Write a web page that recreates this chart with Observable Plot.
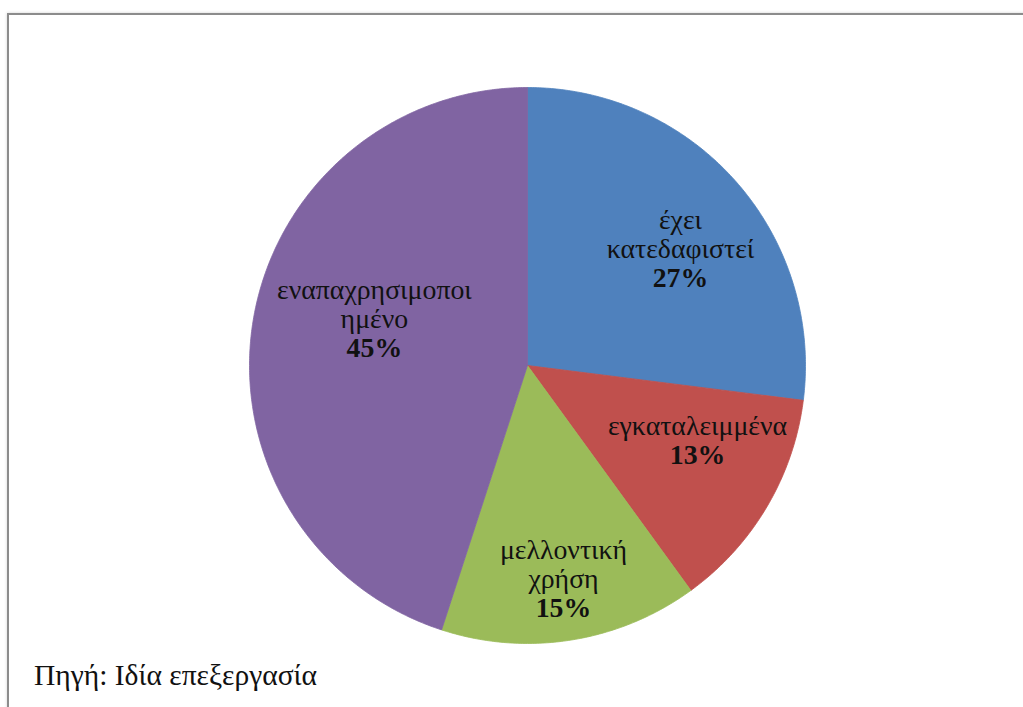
<!DOCTYPE html>
<html><head><meta charset="utf-8">
<script src="https://cdn.jsdelivr.net/npm/d3@7"></script>
<script src="https://cdn.jsdelivr.net/npm/@observablehq/plot@0.6"></script>
<style>
body{margin:0;background:#fff;}
#wrap{position:relative;width:1023px;height:707px;overflow:hidden;background:#fff;}
#chart{position:absolute;left:0;top:0;}
#frame{position:absolute;left:7px;top:13px;width:1100px;height:800px;border:2px solid #8c8c8c;box-shadow:0 0 3px rgba(0,0,0,0.18);}
#caption{position:absolute;left:34px;top:661px;font-family:"Liberation Serif",serif;font-size:29.5px;line-height:29px;color:#111;white-space:nowrap;}
</style></head><body>
<div id="wrap"><div id="chart"></div><div id="frame"></div><div id="caption">Πηγή: Ιδία επεξεργασία</div></div>
<script>
// Data
const categories = ["έχει\nκατεδαφιστεί", "εγκαταλειμμένα", "μελλοντική\nχρήση", "εναπαχρησιμοποι\nημένο"];
const shares = [27, 13, 15, 45];
const colors = ["#4F81BD", "#C0504D", "#9BBB59", "#8064A2"];

// Layout
const W = 1023, H = 707, CX = 527, CY = 365, R = 278;
const FS = 27.8, LH = 29;
const labelR = [0.691, 0.669, 0.781, 0.575];
const labelTurn = [4.2, -6.7, -0.55, 7.7];

const pie = d3.pie().sort(null).value(d => d)(shares);
const slicePts = [];
pie.forEach((p, i) => {
  slicePts.push({cat: categories[i], x: 0, y: 0});
  const steps = Math.ceil((p.endAngle - p.startAngle) / (Math.PI / 360));
  for (let k = 0; k <= steps; k++) {
    const a = p.startAngle + (p.endAngle - p.startAngle) * k / steps;
    slicePts.push({cat: categories[i], x: Math.sin(a), y: Math.cos(a)});
  }
  slicePts.push({cat: categories[i], x: 0, y: 0});
});

const rows = [];
pie.forEach((p, i) => {
  const mid = (p.startAngle + p.endAngle) / 2 + labelTurn[i] * Math.PI / 180;
  const lx = labelR[i] * Math.sin(mid), ly = labelR[i] * Math.cos(mid);
  const lines = categories[i].split("\n").map(t => ({t, bold: false}));
  lines.push({t: shares[i] + "%", bold: true});
  const n = lines.length;
  lines.forEach((ln, j) => {
    const off = (j - (n - 1) / 2) * LH + 0.31 * FS;
    rows.push({x: lx, y: ly - off / R, text: ln.t, bold: ln.bold});
  });
});

const chart = Plot.plot({
  width: W, height: H,
  marginLeft: CX - R, marginRight: W - CX - R, marginTop: CY - R, marginBottom: H - CY - R,
  x: {domain: [-1, 1], axis: null},
  y: {domain: [-1, 1], axis: null},
  color: {domain: categories, range: colors},
  style: {background: "transparent", overflow: "visible"},
  marks: [
    Plot.line(slicePts, {x: "x", y: "y", z: "cat", fill: "cat", stroke: "cat", strokeWidth: 0.8, curve: "linear"}),
    Plot.text(rows.filter(d => !d.bold), {x: "x", y: "y", text: "text", lineAnchor: "bottom", fontFamily: "Liberation Serif", fontSize: FS, fill: "#111"}),
    Plot.text(rows.filter(d => d.bold), {x: "x", y: "y", text: "text", lineAnchor: "bottom", fontFamily: "Liberation Serif", fontSize: FS, fontWeight: "bold", fill: "#111"})
  ]
});
document.getElementById("chart").appendChild(chart);
</script>
</body></html>
